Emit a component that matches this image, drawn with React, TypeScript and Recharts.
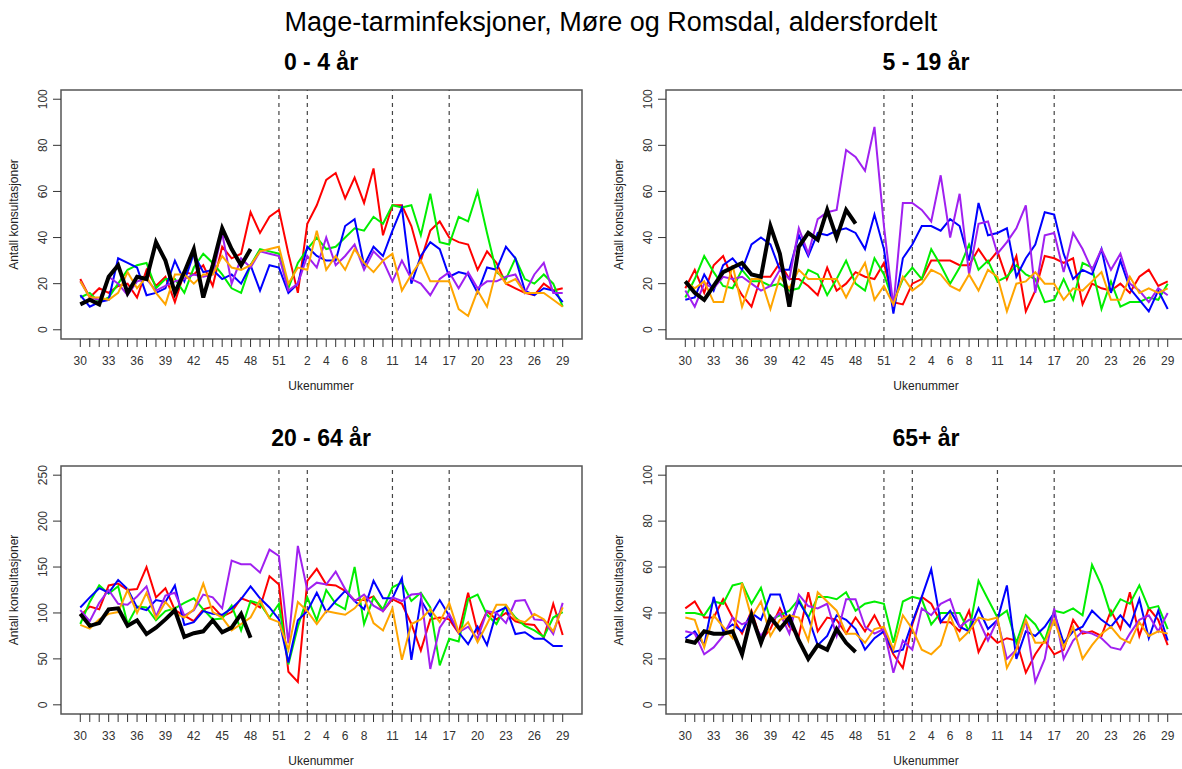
import React from 'react'
import { LineChart, Line, XAxis, YAxis, ReferenceLine, ReferenceArea } from 'recharts'

// week 30 .. 52, then 1 .. 29
const weeks = [
  30, 31, 32, 33, 34, 35, 36, 37, 38, 39, 40, 41, 42, 43, 44, 45, 46, 47, 48, 49, 50, 51, 52,
  1, 2, 3, 4, 5, 6, 7, 8, 9, 10, 11, 12, 13, 14, 15, 16, 17, 18, 19, 20, 21, 22, 23, 24, 25, 26, 27, 28, 29,
]
const labelWeeks = [30, 33, 36, 39, 42, 45, 48, 51, 2, 4, 6, 8, 11, 14, 17, 20, 23, 26, 29]
const markerWeeks = [51, 2, 11, 17]

// 0 - 4 år
const p1Black = [11, 13, 11, 23, 28, 16, 23, 22, 38, 30, 16, 25, 35, 14, 28, 44, 35, 28, 35]
const p1Red = [22, 14, 18, 16, 19, 20, 14, 26, 19, 23, 12, 25, 24, 28, 19, 36, 31, 33, 51, 42, 49, 52, 33,
  16, 46, 54, 65, 68, 57, 66, 55, 70, 41, 54, 54, 45, 30, 43, 47, 40, 38, 37, 26, 34, 29, 20, 18, 16, 15, 20, 17, 18]
const p1Green = [14, 16, 12, 14, 20, 26, 28, 29, 18, 22, 22, 16, 27, 33, 29, 24, 18, 16, 28, 35, 34, 33, 18,
  29, 35, 40, 35, 36, 40, 44, 43, 49, 46, 54, 53, 54, 41, 59, 38, 37, 49, 47, 60, 42, 25, 22, 31, 22, 20, 24, 20, 10]
const p1Blue = [15, 10, 12, 13, 31, 29, 27, 15, 16, 18, 30, 21, 33, 25, 26, 22, 24, 20, 28, 17, 28, 27, 16,
  20, 36, 32, 30, 30, 45, 48, 28, 36, 32, 43, 53, 20, 32, 38, 35, 23, 25, 24, 16, 27, 26, 36, 31, 17, 15, 18, 17, 12]
const p1Purple = [21, 14, 13, 23, 20, 15, 21, 22, 17, 19, 21, 22, 24, 23, 24, 42, 20, 31, 27, 34, 33, 32, 17,
  20, 32, 27, 40, 28, 32, 37, 26, 34, 30, 21, 30, 22, 20, 15, 22, 25, 18, 25, 18, 21, 21, 23, 24, 16, 24, 29, 16, 16]
const p1Orange = [21, 14, 14, 13, 16, 25, 18, 23, 16, 11, 24, 24, 20, 24, 24, 32, 27, 26, 28, 34, 35, 36, 20,
  27, 26, 43, 26, 32, 26, 35, 29, 25, 30, 33, 17, 24, 30, 21, 21, 21, 9, 6, 17, 10, 26, 20, 22, 16, 16, 16, 13, 10]

// 5 - 19 år
const p2Black = [21, 16, 13, 19, 25, 27, 29, 24, 23, 45, 33, 10, 36, 42, 39, 52, 40, 52, 46]
const p2Red = [18, 26, 16, 28, 32, 22, 15, 10, 23, 23, 29, 22, 22, 19, 15, 27, 17, 20, 25, 23, 22, 29, 12,
  11, 20, 22, 30, 30, 30, 28, 28, 35, 29, 34, 22, 32, 8, 17, 32, 31, 29, 31, 11, 20, 18, 17, 20, 16, 23, 26, 19, 21]
const p2Green = [14, 22, 32, 25, 19, 18, 26, 21, 21, 19, 20, 17, 18, 26, 24, 15, 22, 30, 20, 17, 31, 24, 12,
  22, 27, 22, 35, 28, 20, 27, 37, 26, 30, 21, 23, 28, 24, 22, 12, 13, 22, 13, 29, 27, 9, 21, 10, 12, 12, 14, 13, 20]
const p2Blue = [13, 14, 24, 17, 28, 31, 26, 37, 40, 37, 26, 26, 41, 32, 42, 41, 43, 44, 42, 35, 50, 35, 7,
  31, 37, 45, 45, 43, 48, 45, 30, 55, 41, 42, 44, 23, 31, 37, 51, 50, 33, 22, 26, 24, 35, 16, 30, 18, 13, 8, 17, 9]
const p2Purple = [17, 10, 20, 18, 23, 22, 23, 20, 17, 19, 26, 22, 44, 33, 48, 51, 52, 78, 75, 69, 88, 45, 10,
  55, 55, 52, 47, 67, 40, 59, 24, 46, 47, 33, 38, 44, 54, 16, 41, 42, 25, 42, 35, 26, 35, 26, 33, 20, 17, 12, 18, 15]
const p2Orange = [21, 18, 21, 12, 12, 28, 10, 22, 22, 9, 23, 18, 26, 22, 22, 22, 22, 14, 22, 29, 13, 19, 11,
  23, 17, 20, 26, 24, 19, 17, 24, 17, 26, 23, 8, 20, 21, 25, 20, 20, 13, 18, 17, 21, 25, 13, 13, 23, 16, 18, 16, 18]

// 20 - 64 år
const p3Black = [99, 86, 89, 104, 105, 86, 92, 77, 84, 93, 103, 74, 78, 80, 92, 79, 84, 99, 73]
const p3Red = [97, 107, 104, 130, 132, 125, 126, 150, 117, 127, 103, 97, 91, 104, 107, 96, 101, 116, 112, 106, 140, 131, 36,
  25, 135, 148, 131, 130, 124, 114, 114, 118, 102, 115, 110, 88, 59, 93, 95, 93, 78, 122, 79, 102, 93, 100, 91, 88, 87, 73, 110, 76]
const p3Green = [88, 112, 130, 121, 129, 88, 107, 106, 92, 102, 105, 111, 116, 104, 93, 94, 108, 81, 113, 110, 95, 110, 44,
  85, 117, 92, 125, 110, 104, 150, 88, 117, 104, 128, 133, 113, 122, 106, 43, 72, 69, 115, 120, 98, 88, 108, 95, 86, 81, 74, 95, 101]
const p3Blue = [106, 117, 127, 122, 136, 126, 106, 103, 114, 112, 130, 87, 90, 102, 99, 98, 105, 115, 129, 116, 106, 93, 46,
  92, 102, 122, 101, 113, 124, 113, 104, 135, 116, 116, 138, 49, 114, 97, 114, 97, 79, 66, 85, 65, 101, 106, 77, 79, 72, 72, 64, 64]
const p3Purple = [103, 91, 111, 125, 110, 109, 118, 129, 96, 119, 122, 97, 103, 120, 117, 105, 157, 153, 153, 144, 169, 162, 67,
  173, 125, 133, 131, 145, 126, 113, 120, 108, 102, 117, 113, 120, 121, 39, 84, 99, 79, 85, 72, 102, 100, 89, 113, 114, 93, 92, 77, 111]
const p3Orange = [87, 83, 93, 99, 101, 125, 100, 122, 94, 112, 100, 95, 104, 132, 101, 95, 81, 88, 95, 114, 94, 90, 60,
  112, 102, 88, 102, 100, 98, 105, 117, 89, 81, 105, 49, 88, 93, 104, 90, 111, 79, 90, 68, 88, 109, 109, 93, 90, 99, 93, 80, 106]

// 65+ år
const p4Black = [28, 27, 32, 31, 31, 32, 22, 39, 27, 38, 33, 38, 28, 20, 26, 24, 33, 27, 23]
const p4Red = [42, 45, 38, 38, 46, 38, 31, 41, 28, 33, 42, 34, 30, 49, 32, 38, 37, 31, 38, 32, 39, 31, 22,
  16, 35, 47, 44, 36, 36, 32, 41, 23, 31, 27, 29, 28, 14, 22, 28, 22, 24, 37, 31, 32, 30, 41, 33, 49, 30, 42, 37, 26]
const p4Green = [40, 40, 39, 45, 44, 52, 53, 44, 51, 37, 39, 41, 46, 38, 47, 47, 46, 49, 41, 44, 45, 44, 27,
  45, 47, 46, 35, 40, 40, 40, 32, 54, 46, 38, 41, 27, 39, 35, 28, 41, 40, 42, 39, 61, 52, 39, 46, 44, 52, 42, 43, 33]
const p4Blue = [29, 32, 26, 47, 32, 35, 32, 40, 37, 48, 48, 35, 45, 38, 26, 30, 39, 37, 33, 24, 29, 32, 23,
  24, 36, 47, 59, 36, 41, 34, 32, 42, 33, 37, 52, 20, 32, 30, 34, 40, 27, 32, 34, 41, 37, 34, 39, 34, 46, 29, 41, 28]
const p4Purple = [32, 31, 22, 25, 30, 38, 35, 37, 30, 36, 40, 31, 48, 43, 42, 44, 30, 46, 46, 34, 31, 33, 14,
  28, 24, 42, 39, 44, 46, 34, 37, 37, 28, 37, 20, 24, 37, 10, 20, 42, 20, 28, 32, 31, 29, 25, 24, 31, 37, 39, 32, 40]
const p4Orange = [38, 37, 25, 39, 34, 29, 53, 38, 45, 30, 37, 39, 38, 28, 49, 45, 41, 31, 31, 27, 33, 34, 24,
  39, 33, 24, 22, 26, 39, 28, 32, 38, 37, 38, 16, 24, 37, 27, 27, 37, 25, 34, 20, 26, 31, 34, 29, 27, 36, 30, 32, 31]

const colors = {
  red: '#ff0000',
  green: '#00ee00',
  blue: '#0000ff',
  purple: '#a020f0',
  orange: '#ffa500',
  black: '#000000',
}
const seriesOrder = ['red', 'green', 'blue', 'purple', 'orange']

const FONT = '"Liberation Sans", Arial, Helvetica, sans-serif'

const PLOT_W = 521
const Y_AXIS_W = 61
const X_AXIS_H = 45

function buildRows(s: Record<string, number[]>) {
  return weeks.map((w, i) => ({
    i,
    week: w,
    red: s.red[i],
    green: s.green[i],
    blue: s.blue[i],
    purple: s.purple[i],
    orange: s.orange[i],
    black: i < s.black.length ? s.black[i] : null,
  }))
}

const panels = [
  { title: '0 - 4 år', boxLeft: 61, boxTop: 90, plotH: 249, yMax: 100, yTicks: [0, 20, 40, 60, 80, 100],
    rows: buildRows({ black: p1Black, red: p1Red, green: p1Green, blue: p1Blue, purple: p1Purple, orange: p1Orange }) },
  { title: '5 - 19 år', boxLeft: 666, boxTop: 90, plotH: 249, yMax: 100, yTicks: [0, 20, 40, 60, 80, 100],
    rows: buildRows({ black: p2Black, red: p2Red, green: p2Green, blue: p2Blue, purple: p2Purple, orange: p2Orange }) },
  { title: '20 - 64 år', boxLeft: 61, boxTop: 466, plotH: 248, yMax: 250, yTicks: [0, 50, 100, 150, 200, 250],
    rows: buildRows({ black: p3Black, red: p3Red, green: p3Green, blue: p3Blue, purple: p3Purple, orange: p3Orange }) },
  { title: '65+ år', boxLeft: 666, boxTop: 466, plotH: 248, yMax: 100, yTicks: [0, 20, 40, 60, 80, 100],
    rows: buildRows({ black: p4Black, red: p4Red, green: p4Green, blue: p4Blue, purple: p4Purple, orange: p4Orange }) },
]

const X_MIN = -0.04 * 51
const X_MAX = 51 + 0.04 * 51

const XTick = (props: any) => {
  const { x, y, payload } = props
  const w = weeks[payload.value]
  if (!labelWeeks.includes(w)) return <g />
  return (
    <text x={x} y={y + 9.5} dy="0.71em" textAnchor="middle" fontSize={12} fill="#333" fontFamily={FONT}>
      {w}
    </text>
  )
}

const YTick = (props: any) => {
  const { x, y, payload } = props
  const tx = x - 6
  return (
    <text x={tx} y={y} transform={`rotate(-90, ${tx}, ${y})`} textAnchor="middle" fontSize={12} fill="#333" fontFamily={FONT}>
      {payload.value}
    </text>
  )
}

function Panel({ p }: { p: (typeof panels)[number] }) {
  const pad = 0.04 * p.yMax
  const yMin = -pad
  const yTop = p.yMax + pad
  const width = Y_AXIS_W + PLOT_W + 10
  const height = 10 + p.plotH + X_AXIS_H
  return (
    <div style={{ position: 'absolute', left: p.boxLeft - Y_AXIS_W, top: p.boxTop - 10 }}>
      <LineChart width={width} height={height} data={p.rows} margin={{ top: 10, right: 10, bottom: 0, left: 0 }}>
        <XAxis
          type="number"
          dataKey="i"
          domain={[X_MIN, X_MAX]}
          ticks={weeks.map((_, i) => i)}
          interval={0}
          tickSize={8}
          tickMargin={0}
          tickLine={{ stroke: '#333' }}
          axisLine={false}
          tick={XTick}
          height={X_AXIS_H}
        />
        <YAxis
          type="number"
          domain={[yMin, yTop]}
          ticks={p.yTicks}
          interval={0}
          tickSize={8}
          tickMargin={0}
          tickLine={{ stroke: '#333' }}
          axisLine={false}
          tick={YTick}
          width={Y_AXIS_W}
        />
        <ReferenceArea
          x1={X_MIN}
          x2={X_MAX}
          y1={yMin}
          y2={yTop}
          fill="none"
          fillOpacity={0}
          stroke="#555"
          strokeWidth={1.5}
          ifOverflow="visible"
        />
        {markerWeeks.map((w) => (
          <ReferenceLine key={w} x={weeks.indexOf(w)} stroke="#444" strokeWidth={1.2} strokeDasharray="4 4" />
        ))}
        {seriesOrder.map((k) => (
          <Line
            key={k}
            type="linear"
            dataKey={k}
            stroke={(colors as any)[k]}
            strokeWidth={2}
            dot={false}
            activeDot={false}
            isAnimationActive={false}
          />
        ))}
        <Line
          type="linear"
          dataKey="black"
          stroke={colors.black}
          strokeWidth={4}
          dot={false}
          activeDot={false}
          connectNulls={false}
          isAnimationActive={false}
        />
      </LineChart>
    </div>
  )
}

export default function App() {
  const centers = [321, 926]
  return (
    <div
      style={{
        position: 'absolute',
        left: 0,
        top: 0,
        width: 1182,
        height: 769,
        overflow: 'hidden',
        background: '#fff',
        fontFamily: FONT,
      }}
    >
      {panels.map((p) => (
        <Panel key={p.title} p={p} />
      ))}
      <svg width={1182} height={769} style={{ position: 'absolute', left: 0, top: 0, pointerEvents: 'none' }}>
        <text x={611} y={22} textAnchor="middle" dominantBaseline="central" fontSize={27} fontFamily={FONT} fill="#000">
          Mage-tarminfeksjoner, Møre og Romsdal, aldersfordelt
        </text>
        {panels.map((p, idx) => {
          const cx = centers[idx % 2]
          const titleY = idx < 2 ? 62 : 438
          const boxMid = p.boxTop + p.plotH / 2
          const axisX = p.boxLeft - 47
          return (
            <g key={p.title}>
              <text x={cx} y={titleY} textAnchor="middle" dominantBaseline="central" fontSize={23} fontWeight="bold" fontFamily={FONT} fill="#000">
                {p.title}
              </text>
              <text x={cx} y={p.boxTop + p.plotH + 47} textAnchor="middle" dominantBaseline="central" fontSize={12} fontFamily={FONT} fill="#222">
                Ukenummer
              </text>
              <text
                x={axisX}
                y={boxMid}
                transform={`rotate(-90, ${axisX}, ${boxMid})`}
                textAnchor="middle"
                dominantBaseline="central"
                fontSize={12}
                fontFamily={FONT}
                fill="#222"
              >
                Antall konsultasjoner
              </text>
            </g>
          )
        })}
      </svg>
    </div>
  )
}
